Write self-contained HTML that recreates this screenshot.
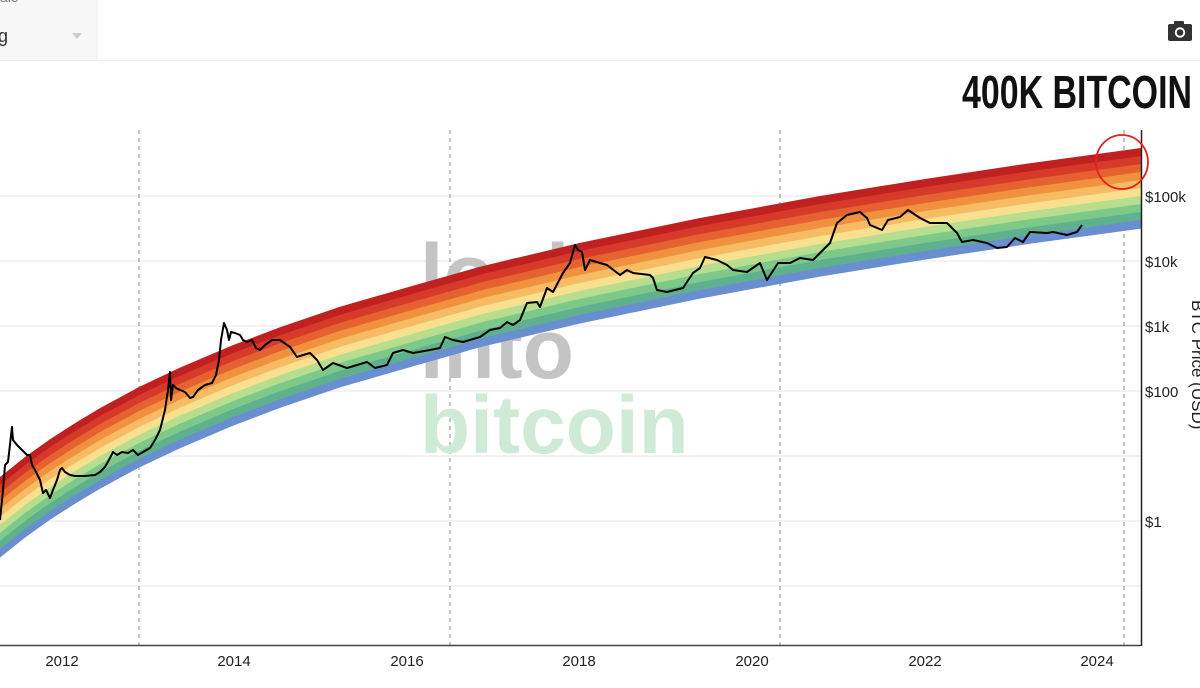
<!DOCTYPE html>
<html><head><meta charset="utf-8"><style>
html,body{margin:0;padding:0;background:#fff;}
svg{display:block;font-family:"Liberation Sans",sans-serif;}
</style></head><body>
<svg width="1200" height="688" viewBox="0 0 1200 688" xmlns="http://www.w3.org/2000/svg">
<defs>
<clipPath id="pc"><rect x="0" y="62" width="1141" height="583"/></clipPath>
<polygon id="strip" points="0,477 25,457 50,439.2 75,423.1 100,408.1 139,387 180,367.6 232,345.5 280,327.3 340,306.8 405,288 480,266.7 580,242.9 700,218 820,196 925,179 1030,163.2 1141,148 1141,156.6 1030,171.8 925,187.6 820,204.6 700,226.6 580,251.5 480,275.3 405,296.6 340,315.4 280,335.9 232,354.1 180,376.2 139,395.6 100,416.7 75,431.7 50,447.8 25,465.6 0,485.6"/>
</defs>
<rect x="0" y="0" width="97" height="60" fill="#f7f7f7"/>
<line x1="97" y1="0" x2="97" y2="60" stroke="#ececec"/>
<line x1="0" y1="60.5" x2="1200" y2="60.5" stroke="#ececec"/>
<text x="-2" y="42" font-size="18" fill="#333">g</text>
<polygon points="72,33 82,33 77,39" fill="#ccc"/>
<text x="0" y="2" font-size="14" fill="#777">ale</text>
<g fill="#333"><rect x="1168" y="24" width="24" height="17" rx="2"/><rect x="1174" y="21" width="10" height="5" rx="1"/></g>
<circle cx="1180" cy="32.5" r="5.2" fill="#fff"/><circle cx="1180" cy="32.5" r="3.3" fill="#333"/>
<g stroke="#e6e6e6" stroke-width="1">
<line x1="0" y1="196" x2="1141" y2="196"/><line x1="0" y1="261" x2="1141" y2="261"/>
<line x1="0" y1="326" x2="1141" y2="326"/><line x1="0" y1="391" x2="1141" y2="391"/>
<line x1="0" y1="456" x2="1141" y2="456"/><line x1="0" y1="521" x2="1141" y2="521"/>
<line x1="0" y1="586" x2="1141" y2="586"/>
</g>
<g stroke="#888" stroke-width="1" stroke-dasharray="4,4">
<line x1="139" y1="130" x2="139" y2="645"/><line x1="450" y1="130" x2="450" y2="645"/>
<line x1="780" y1="130" x2="780" y2="645"/><line x1="1124" y1="130" x2="1124" y2="645"/>
</g>
<text x="420" y="303" font-size="84" font-weight="bold" fill="#c4c4c4">look</text>
<text x="420" y="378" font-size="84" font-weight="bold" fill="#c4c4c4">Into</text>
<text x="420" y="453" font-size="82" font-weight="bold" fill="#cfead6">bitcoin</text>
<g clip-path="url(#pc)">
<use href="#strip" fill="#c0201f" transform="translate(0,0)"/>
<use href="#strip" fill="#d63a2a" transform="translate(0,8)"/>
<use href="#strip" fill="#e5612f" transform="translate(0,16)"/>
<use href="#strip" fill="#f0913f" transform="translate(0,24)"/>
<use href="#strip" fill="#f6bb63" transform="translate(0,32)"/>
<use href="#strip" fill="#f7e08e" transform="translate(0,40)"/>
<use href="#strip" fill="#b7dd8f" transform="translate(0,48)"/>
<use href="#strip" fill="#7cc98a" transform="translate(0,56)"/>
<use href="#strip" fill="#5fb08e" transform="translate(0,64)"/>
<use href="#strip" fill="#6a8fd0" transform="translate(0,72)"/>
<path fill="none" stroke="#000" stroke-width="2" stroke-linejoin="round" d="M0,520 L3,490 L5,465 L8,462 L12,427 L13,440 L17,445 L22,450 L27,455 L30,455 L32,465 L35,470 L40,480 L43,493 L46,490 L50,498 L53,490 L57,480 L60,470 L62,468 L65,472 L70,475 L75,476 L85,476 L95,475 L100,472 L105,467 L110,458 L113,452 L117,455 L122,452 L128,453 L133,450 L138,455 L143,452 L150,448 L155,440 L160,430 L165,410 L168,390 L170,372 L171,400 L173,385 L176,388 L180,390 L185,392 L190,398 L193,397 L198,390 L205,385 L212,383 L216,375 L219,360 L221,340 L224,323 L227,330 L229,340 L231,332 L235,333 L240,335 L243,340 L247,342 L252,340 L256,348 L260,350 L265,345 L272,340 L280,340 L290,347 L297,357 L303,355 L310,353 L317,360 L323,370 L333,363 L347,368 L367,362 L375,368 L387,365 L393,353 L403,350 L413,353 L430,350 L440,348 L445,337 L453,340 L463,342 L480,337 L490,330 L500,328 L507,322 L513,325 L520,320 L527,303 L537,302 L540,307 L547,288 L553,292 L563,273 L570,263 L573,252 L575,245 L578,250 L582,252 L585,270 L590,260 L600,263 L607,265 L620,275 L627,270 L633,273 L650,275 L653,278 L657,290 L667,292 L683,288 L693,273 L700,268 L705,257 L717,260 L727,265 L733,270 L747,272 L760,263 L767,280 L778,263 L790,263 L800,258 L813,260 L823,250 L830,243 L837,223 L847,215 L860,212 L867,218 L870,225 L882,230 L888,220 L900,217 L908,210 L920,218 L930,223 L947,223 L957,233 L962,242 L973,240 L987,243 L997,248 L1007,247 L1015,238 L1023,242 L1030,232 L1047,233 L1053,232 L1067,235 L1077,232 L1082,225"/>
</g>
<line x1="1141.5" y1="130" x2="1141.5" y2="646" stroke="#222" stroke-width="1.5"/>
<line x1="0" y1="645.5" x2="1141" y2="645.5" stroke="#444" stroke-width="1.5"/>
<g font-size="15" fill="#222">
<text x="1145" y="202">$100k</text><text x="1145" y="267">$10k</text>
<text x="1145" y="332">$1k</text><text x="1145" y="397">$100</text>
<text x="1145" y="527">$1</text>
</g>
<text transform="translate(1192,300) rotate(90)" font-size="17" fill="#222">BTC Price (USD)</text>
<g font-size="15" fill="#222" text-anchor="middle">
<text x="62" y="666">2012</text><text x="234" y="666">2014</text><text x="407" y="666">2016</text>
<text x="579" y="666">2018</text><text x="752" y="666">2020</text><text x="925" y="666">2022</text><text x="1097" y="666">2024</text>
</g>
<text x="962" y="108" font-size="46" font-weight="bold" fill="#111" textLength="230" lengthAdjust="spacingAndGlyphs">400K BITCOIN</text>
<ellipse cx="1122" cy="162" rx="26" ry="27" fill="none" stroke="#e0231f" stroke-width="1.8"/>
</svg>
</body></html>
